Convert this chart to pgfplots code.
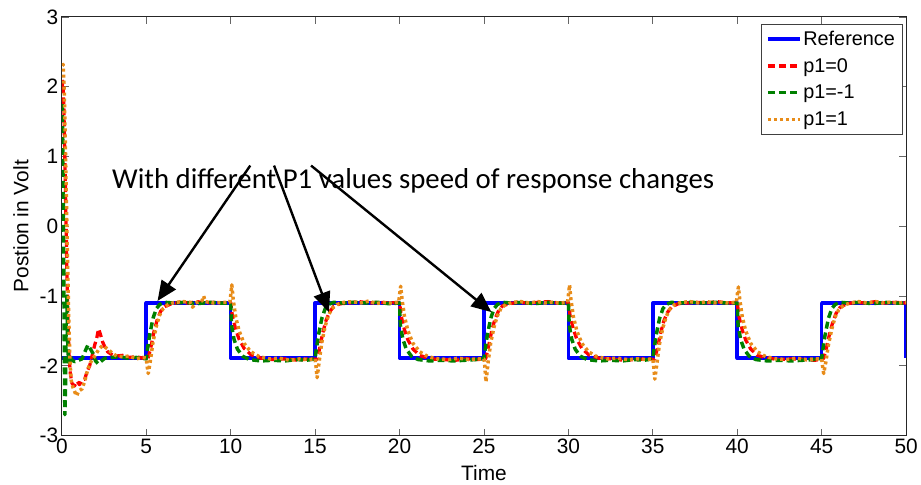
\documentclass[border=0pt]{standalone}
\usepackage{pgfplots}
\pgfplotsset{compat=1.18}
\usepackage{fontspec}
\setmainfont{Liberation Sans}
\newfontfamily\calfont{Carlito}
\usetikzlibrary{arrows.meta}
\definecolor{mblue}{RGB}{0,0,255}
\definecolor{mred}{RGB}{255,0,0}
\definecolor{mgreen}{RGB}{0,128,0}
\definecolor{morange}{RGB}{232,140,25}
\begin{document}
\begin{tikzpicture}
\begin{axis}[
  scale only axis, width=847bp, height=420bp,
  xmin=0, xmax=50, ymin=-3, ymax=3,
  xtick={0,5,...,50}, ytick={-3,-2,...,3},
  tick align=inside, major tick length=7bp,
  tick style={black!60, line width=0.8bp},
  axis line style={black!85, line width=1bp},
  /pgf/number format/assume math mode=true,
  tick label style={font=\fontsize{21}{21}\selectfont},
  xlabel={Time}, ylabel={Postion in Volt},
  every axis x label/.style={at={(axis description cs:0.5,0)}, anchor=base, yshift=-45bp, font=\fontsize{21}{21}\selectfont},
  every axis y label/.style={at={([xshift=-41bp]axis description cs:0,0.5)}, rotate=90, anchor=center, font=\fontsize{21}{21}\selectfont},
  legend style={at={(1,1)}, anchor=north east, xshift=-4bp, yshift=-7bp,
    font=\fontsize{20}{20}\selectfont, draw=black!75,
    row sep=7.5bp, inner xsep=5bp, inner ysep=5bp},
  legend cell align=left,
  legend image code/.code={\draw[#1, line width=3.2bp] (0bp,0bp) -- (32bp,0bp);},
  every axis plot/.append style={line join=round},
  clip=true,
]
\addplot[mblue, line width=3.6bp] coordinates {
(0,-1.89)(5,-1.89)(5,-1.1)(10,-1.1)(10,-1.89)(15,-1.89)(15,-1.1)(20,-1.1)(20,-1.89)(25,-1.89)(25,-1.1)(30,-1.1)(30,-1.89)(35,-1.89)(35,-1.1)(40,-1.1)(40,-1.89)(45,-1.89)(45,-1.1)(50,-1.1)(50,-1.89)};
\addlegendentry{Reference}
\addplot[mred, line width=3.3bp, dash pattern=on 7bp off 4bp] coordinates {
(0.02,2.0)(0.07,2.08)(0.12,1.7)(0.18,1.0)(0.24,0.2)(0.3,-0.6)(0.36,-1.3)(0.42,-1.8)(0.5,-2.1)(0.6,-2.25)(0.75,-2.29)(0.9,-2.22)(1.05,-2.27)(1.2,-2.2)(1.36,-2.19)(1.5,-2.08)(1.65,-2.0)(1.8,-1.85)(1.95,-1.7)(2.07,-1.6)(2.18,-1.47)(2.3,-1.56)(2.42,-1.66)(2.57,-1.74)(2.72,-1.8)(2.9,-1.83)(3.2,-1.86)(3.6,-1.85)(4.0,-1.88)(4.4,-1.87)(4.8,-1.89)(5.1,-1.90)
(5.25,-1.76)(5.45,-1.52)(5.65,-1.34)(5.85,-1.22)(6.1,-1.15)(6.5,-1.11)(7.0,-1.09)(7.5,-1.10)(8.0,-1.08)(8.5,-1.10)(9.0,-1.09)(9.5,-1.10)(10.0,-1.09)
(10.1,-1.28)(10.3,-1.48)(10.5,-1.62)(10.8,-1.75)(11.2,-1.84)(11.8,-1.89)(12.5,-1.91)(13.3,-1.90)(14.0,-1.92)(14.6,-1.90)(15.1,-1.91)
(15.25,-1.77)(15.45,-1.53)(15.65,-1.35)(15.85,-1.23)(16.1,-1.15)(16.5,-1.11)(17.0,-1.10)(17.6,-1.08)(18.2,-1.10)(18.8,-1.09)(19.4,-1.10)(20.0,-1.09)
(20.1,-1.29)(20.3,-1.49)(20.5,-1.63)(20.8,-1.76)(21.2,-1.85)(21.8,-1.90)(22.5,-1.91)(23.3,-1.92)(24.0,-1.90)(24.6,-1.91)(25.1,-1.90)
(25.25,-1.75)(25.45,-1.51)(25.65,-1.33)(25.85,-1.22)(26.1,-1.14)(26.5,-1.11)(27.0,-1.09)(27.6,-1.10)(28.2,-1.09)(28.8,-1.08)(29.4,-1.10)(30.0,-1.09)
(30.1,-1.28)(30.3,-1.48)(30.5,-1.62)(30.8,-1.75)(31.2,-1.84)(31.8,-1.89)(32.5,-1.90)(33.3,-1.92)(34.0,-1.91)(34.6,-1.90)(35.1,-1.91)
(35.25,-1.77)(35.45,-1.54)(35.65,-1.36)(35.85,-1.24)(36.1,-1.16)(36.5,-1.11)(37.0,-1.10)(37.6,-1.09)(38.2,-1.10)(38.8,-1.08)(39.4,-1.10)(40.0,-1.09)
(40.1,-1.29)(40.3,-1.49)(40.5,-1.63)(40.8,-1.76)(41.2,-1.85)(41.8,-1.89)(42.5,-1.91)(43.3,-1.90)(44.0,-1.91)(44.6,-1.92)(45.1,-1.90)
(45.25,-1.78)(45.45,-1.56)(45.65,-1.38)(45.85,-1.25)(46.1,-1.16)(46.5,-1.11)(47.0,-1.09)(47.6,-1.10)(48.2,-1.08)(48.8,-1.10)(49.4,-1.09)(50.0,-1.10)};
\addlegendentry{p1=0}
\addplot[mgreen, line width=3.5bp, dash pattern=on 7bp off 4bp] coordinates {
(0.02,1.75)(0.06,1.2)(0.1,0.0)(0.14,-1.5)(0.18,-2.7)(0.22,-2.3)(0.26,-1.3)(0.3,-1.0)(0.34,-1.6)(0.4,-1.95)(0.5,-1.85)(0.6,-1.92)(0.77,-1.94)(1.0,-1.92)(1.2,-1.9)(1.4,-1.78)(1.55,-1.70)(1.7,-1.76)(1.84,-1.82)(2.0,-1.93)(2.15,-1.97)(2.35,-1.93)(2.55,-1.89)(2.9,-1.88)(3.4,-1.87)(3.9,-1.89)(4.4,-1.88)(5.0,-1.90)
(5.05,-1.80)(5.2,-1.56)(5.4,-1.32)(5.6,-1.18)(5.8,-1.12)(6.1,-1.09)(6.6,-1.10)(7.3,-1.09)(8.0,-1.11)(8.7,-1.09)(9.4,-1.10)(10.0,-1.10)
(10.05,-1.42)(10.2,-1.62)(10.4,-1.76)(10.7,-1.86)(11.1,-1.91)(11.8,-1.93)(12.5,-1.92)(13.2,-1.93)(13.9,-1.91)(14.5,-1.92)(15.0,-1.90)
(15.05,-1.80)(15.2,-1.56)(15.4,-1.32)(15.6,-1.18)(15.8,-1.12)(16.1,-1.09)(16.6,-1.10)(17.3,-1.09)(18.0,-1.10)(18.7,-1.09)(19.4,-1.11)(20.0,-1.10)
(20.05,-1.42)(20.2,-1.62)(20.4,-1.76)(20.7,-1.86)(21.1,-1.91)(21.8,-1.93)(22.5,-1.92)(23.2,-1.93)(23.9,-1.92)(24.5,-1.91)(25.0,-1.90)
(25.05,-1.80)(25.2,-1.56)(25.4,-1.32)(25.6,-1.18)(25.8,-1.12)(26.1,-1.09)(26.6,-1.10)(27.3,-1.09)(28.0,-1.11)(28.7,-1.09)(29.4,-1.10)(30.0,-1.10)
(30.05,-1.42)(30.2,-1.62)(30.4,-1.76)(30.7,-1.86)(31.1,-1.91)(31.8,-1.93)(32.5,-1.92)(33.2,-1.93)(33.9,-1.91)(34.5,-1.92)(35.0,-1.90)
(35.05,-1.80)(35.2,-1.56)(35.4,-1.32)(35.6,-1.18)(35.8,-1.12)(36.1,-1.09)(36.6,-1.10)(37.3,-1.09)(38.0,-1.10)(38.7,-1.09)(39.4,-1.10)(40.0,-1.10)
(40.05,-1.42)(40.2,-1.62)(40.4,-1.76)(40.7,-1.86)(41.1,-1.91)(41.8,-1.93)(42.5,-1.92)(43.2,-1.93)(43.9,-1.92)(44.5,-1.91)(45.0,-1.90)
(45.05,-1.80)(45.2,-1.56)(45.4,-1.32)(45.6,-1.18)(45.8,-1.12)(46.1,-1.09)(46.6,-1.10)(47.3,-1.09)(48.0,-1.11)(48.7,-1.09)(49.4,-1.10)(50.0,-1.10)};
\addlegendentry{p1=-1}
\addplot[morange, line width=3.5bp, dash pattern=on 3bp off 3bp] coordinates {
(0.02,2.3)(0.08,2.32)(0.14,2.0)(0.2,1.3)(0.27,0.4)(0.34,-0.5)(0.41,-1.3)(0.48,-1.9)(0.55,-2.2)(0.65,-2.3)(0.78,-2.38)(0.88,-2.43)(1.0,-2.36)(1.2,-2.33)(1.38,-2.2)(1.55,-2.04)(1.75,-1.93)(1.95,-1.86)(2.2,-1.76)(2.42,-1.71)(2.72,-1.76)(3.0,-1.82)(3.25,-1.86)(3.6,-1.87)(4.0,-1.86)(4.4,-1.90)(4.8,-1.88)(5.0,-1.89)
(5.05,-2.0)(5.12,-2.11)(5.25,-1.92)(5.4,-1.66)(5.6,-1.43)(5.8,-1.27)(6.0,-1.18)(6.3,-1.12)(6.7,-1.09)(7.2,-1.08)(7.6,-1.09)(7.75,-1.16)(7.9,-1.10)(8.3,-1.07)(8.4,-1.00)(8.5,-1.08)(9.0,-1.10)(9.5,-1.09)(9.95,-1.09)
(10.02,-0.95)(10.07,-0.84)(10.15,-1.05)(10.3,-1.30)(10.5,-1.50)(10.8,-1.68)(11.2,-1.80)(11.7,-1.87)(12.3,-1.90)(12.9,-1.89)(13.5,-1.92)(14.1,-1.90)(14.6,-1.91)(15.0,-1.90)
(15.05,-2.0)(15.12,-2.17)(15.25,-1.92)(15.4,-1.66)(15.6,-1.43)(15.8,-1.27)(16.0,-1.18)(16.3,-1.12)(16.7,-1.09)(17.2,-1.08)(17.7,-1.10)(18.2,-1.07)(18.6,-1.11)(19.0,-1.09)(19.5,-1.10)(19.95,-1.09)
(20.02,-0.95)(20.07,-0.86)(20.15,-1.05)(20.3,-1.30)(20.5,-1.50)(20.8,-1.68)(21.2,-1.80)(21.7,-1.87)(22.3,-1.90)(22.9,-1.91)(23.5,-1.89)(24.1,-1.91)(24.6,-1.90)(25.0,-1.90)
(25.05,-2.0)(25.12,-2.23)(25.25,-1.94)(25.4,-1.67)(25.6,-1.44)(25.8,-1.28)(26.0,-1.18)(26.3,-1.12)(26.7,-1.09)(27.2,-1.08)(27.7,-1.10)(28.2,-1.08)(28.6,-1.10)(29.0,-1.09)(29.5,-1.10)(29.95,-1.09)
(30.02,-0.95)(30.07,-0.84)(30.15,-1.05)(30.3,-1.30)(30.5,-1.50)(30.8,-1.68)(31.2,-1.80)(31.7,-1.87)(32.3,-1.90)(32.9,-1.89)(33.5,-1.91)(34.1,-1.90)(34.6,-1.91)(35.0,-1.90)
(35.05,-2.0)(35.12,-2.19)(35.25,-1.95)(35.4,-1.68)(35.6,-1.45)(35.8,-1.29)(36.0,-1.19)(36.3,-1.12)(36.7,-1.09)(37.2,-1.08)(37.7,-1.10)(38.2,-1.08)(38.6,-1.10)(39.0,-1.09)(39.5,-1.10)(39.95,-1.09)
(40.02,-0.95)(40.07,-0.87)(40.15,-1.05)(40.3,-1.30)(40.5,-1.50)(40.8,-1.68)(41.2,-1.80)(41.7,-1.87)(42.3,-1.90)(42.9,-1.91)(43.5,-1.89)(44.1,-1.91)(44.6,-1.90)(45.0,-1.90)
(45.05,-2.0)(45.12,-2.11)(45.25,-1.94)(45.4,-1.70)(45.6,-1.47)(45.8,-1.30)(46.0,-1.20)(46.3,-1.13)(46.7,-1.10)(47.2,-1.08)(47.7,-1.10)(48.2,-1.08)(48.6,-1.10)(49.0,-1.09)(49.5,-1.10)(50.0,-1.09)};
\addlegendentry{p1=1}
\end{axis}
\begin{axis}[
  scale only axis, width=847bp, height=420bp,
  xmin=0, xmax=50, ymin=-3, ymax=3,
  hide axis, clip=false,
]
\node[font=\calfont\fontsize{29}{29}\selectfont, anchor=base] at (axis cs:20.81,0.543) {With different P1 values speed of response changes};
\draw[line width=2.4bp, -{Triangle[length=20bp,width=17bp]}] (axis cs:11.16,0.87) -- (axis cs:5.67,-1.07);
\draw[line width=2.4bp, -{Triangle[length=20bp,width=17bp]}] (axis cs:12.57,0.87) -- (axis cs:15.82,-1.23);
\draw[line width=2.4bp, -{Triangle[length=20bp,width=17bp]}] (axis cs:14.76,0.87) -- (axis cs:25.44,-1.23);
\path (rel axis cs:0,0) ++(-62bp,-49bp) rectangle ([xshift=12bp,yshift=17bp]rel axis cs:1,1);
\end{axis}
\end{tikzpicture}
\end{document}
